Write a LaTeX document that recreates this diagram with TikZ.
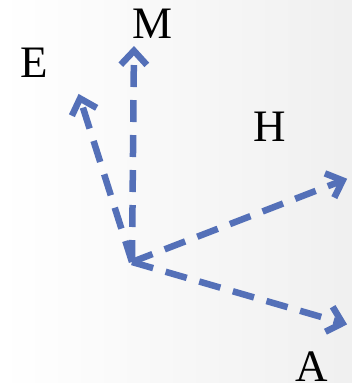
\documentclass[tikz,border=0pt]{standalone}
\usepackage{fontspec}
\setmainfont{Liberation Serif}
\usetikzlibrary{arrows.meta}
\definecolor{vecblue}{RGB}{84,112,184}
\tikzset{
  vec/.style={draw=vecblue, line width=6.5pt, dash pattern=on 22pt off 13pt,
    -{Straight Barb[length=14pt,width=26pt,line width=6.5pt]}, shorten >=2pt},
  lab/.style={font=\fontsize{45}{50}\selectfont, inner sep=0pt}
}
\begin{document}
\begin{tikzpicture}[x=1pt,y=-1pt]
\shade[left color=white, right color=black!6] (0,0) rectangle (352,383);
\useasboundingbox (0,0) rectangle (352,383);
\coordinate (O) at (132,262);
\coordinate (tM) at (134,44);
\coordinate (tE) at (78,92);
\coordinate (tH) at (349,178);
\coordinate (tA) at (349,325);
\node[lab] (M) at (153,24) {M};
\node[lab] (E) at (34,63) {E};
\node[lab] (H) at (270,127) {H};
\node[lab] (A) at (312,367) {A};
\draw[vec] (O) -- (tM);
\draw[vec] (O) -- (tE);
\draw[vec] (O) -- (tH);
\draw[vec] (O) -- (tA);
\end{tikzpicture}
\end{document}
